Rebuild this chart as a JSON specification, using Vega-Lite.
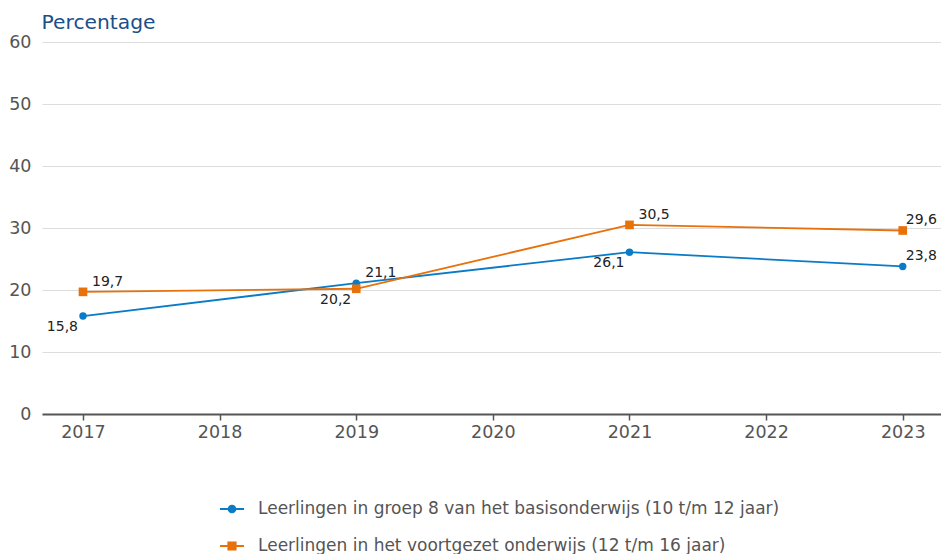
{
  "$schema": "https://vega.github.io/schema/vega-lite/v6.json",
  "width": 899,
  "height": 372,
  "autosize": {"type": "none"},
  "padding": {"left": 42, "top": 42, "right": 0, "bottom": 140},
  "background": "white",
  "config": {
    "font": "DejaVu Sans",
    "view": {"stroke": null},
    "locale": {"number": {"decimal": ",", "thousands": ".", "grouping": [3], "currency": ["€", ""]}}
  },
  "data": {
    "values": [
      {"jaar": 2017, "serie": "Leerlingen in groep 8 van het basisonderwijs (10 t/m 12 jaar)", "waarde": 15.8},
      {"jaar": 2019, "serie": "Leerlingen in groep 8 van het basisonderwijs (10 t/m 12 jaar)", "waarde": 21.1},
      {"jaar": 2021, "serie": "Leerlingen in groep 8 van het basisonderwijs (10 t/m 12 jaar)", "waarde": 26.1},
      {"jaar": 2023, "serie": "Leerlingen in groep 8 van het basisonderwijs (10 t/m 12 jaar)", "waarde": 23.8},
      {"jaar": 2017, "serie": "Leerlingen in het voortgezet onderwijs (12 t/m 16 jaar)", "waarde": 19.7},
      {"jaar": 2019, "serie": "Leerlingen in het voortgezet onderwijs (12 t/m 16 jaar)", "waarde": 20.2},
      {"jaar": 2021, "serie": "Leerlingen in het voortgezet onderwijs (12 t/m 16 jaar)", "waarde": 30.5},
      {"jaar": 2023, "serie": "Leerlingen in het voortgezet onderwijs (12 t/m 16 jaar)", "waarde": 29.6}
    ]
  },
  "transform": [
    {"joinaggregate": [{"op": "max", "field": "waarde", "as": "maxv"}], "groupby": ["jaar"]}
  ],
  "encoding": {
    "x": {
      "field": "jaar", "type": "quantitative",
      "scale": {"domain": [2016.7, 2023.28], "nice": false, "zero": false},
      "axis": {
        "title": null, "values": [2017, 2018, 2019, 2020, 2021, 2022, 2023], "format": "d",
        "grid": false, "domainColor": "#555555", "domainWidth": 2, "tickColor": "#555555",
        "tickSize": 6, "tickWidth": 1.5, "labelFontSize": 17.5, "labelColor": "#555555", "labelPadding": 3
      }
    },
    "y": {
      "field": "waarde", "type": "quantitative",
      "scale": {"domain": [0, 60], "nice": false},
      "axis": {
        "title": "Percentage", "titleAngle": 0, "titleAlign": "left", "titleBaseline": "alphabetic",
        "titleX": -1, "titleY": -14, "titleFontSize": 20.3, "titleFontWeight": "normal", "titleColor": "#1b4f8a",
        "values": [0, 10, 20, 30, 40, 50, 60], "domain": false, "ticks": false,
        "gridColor": "#dddddd", "gridWidth": 1,
        "labelFontSize": 17.5, "labelColor": "#555555", "labelPadding": 11
      }
    },
    "color": {
      "field": "serie", "type": "nominal",
      "scale": {
        "domain": ["Leerlingen in groep 8 van het basisonderwijs (10 t/m 12 jaar)", "Leerlingen in het voortgezet onderwijs (12 t/m 16 jaar)"],
        "range": ["#0a7bc6", "#e8710a"]
      },
      "legend": {
        "orient": "none", "legendX": 177, "legendY": 454, "direction": "vertical", "title": null,
        "symbolSize": 576, "symbolType": "M-1,0H1", "labelFontSize": 17, "labelColor": "#555555",
        "labelOffset": 13, "rowPadding": 16, "labelLimit": 800,
        "encode": {
          "symbols": {
            "update": {
              "shape": {"signal": "datum.value == 'Leerlingen in groep 8 van het basisonderwijs (10 t/m 12 jaar)' ? 'M-1,0H1M-0.28,0A0.28,0.28 0 1,0 0.28,0A0.28,0.28 0 1,0 -0.28,0Z' : 'M-1,0H1M-0.3,-0.3H0.3V0.3H-0.3Z'"},
              "fill": {"scale": "color", "field": "value"},
              "stroke": {"scale": "color", "field": "value"},
              "strokeWidth": {"value": 2},
              "opacity": {"value": 1}
            }
          }
        }
      }
    }
  },
  "layer": [
    {"mark": {"type": "line", "strokeWidth": 1.8}},
    {
      "transform": [{"filter": "datum.serie == 'Leerlingen in groep 8 van het basisonderwijs (10 t/m 12 jaar)'"}],
      "mark": {"type": "point", "shape": "circle", "filled": true, "size": 55, "opacity": 1}
    },
    {
      "transform": [{"filter": "datum.serie == 'Leerlingen in het voortgezet onderwijs (12 t/m 16 jaar)'"}],
      "mark": {"type": "point", "shape": "square", "filled": true, "size": 75, "opacity": 1}
    },
    {
      "transform": [{"filter": "datum.waarde == datum.maxv && datum.jaar != 2023"}],
      "mark": {"type": "text", "align": "left", "baseline": "middle", "dx": 9, "dy": -10, "fontSize": 14, "color": "#222222"},
      "encoding": {"text": {"field": "waarde", "type": "quantitative", "format": ".1f"}, "color": {"value": "#222222"}}
    },
    {
      "transform": [{"filter": "datum.waarde != datum.maxv && datum.jaar != 2023"}],
      "mark": {"type": "text", "align": "right", "baseline": "middle", "dx": -5, "dy": 11, "fontSize": 14, "color": "#222222"},
      "encoding": {"text": {"field": "waarde", "type": "quantitative", "format": ".1f"}, "color": {"value": "#222222"}}
    },
    {
      "transform": [{"filter": "datum.jaar == 2023"}],
      "mark": {"type": "text", "align": "left", "baseline": "middle", "dx": 3, "dy": -10, "fontSize": 14, "color": "#222222"},
      "encoding": {"text": {"field": "waarde", "type": "quantitative", "format": ".1f"}, "color": {"value": "#222222"}}
    }
  ]
}
